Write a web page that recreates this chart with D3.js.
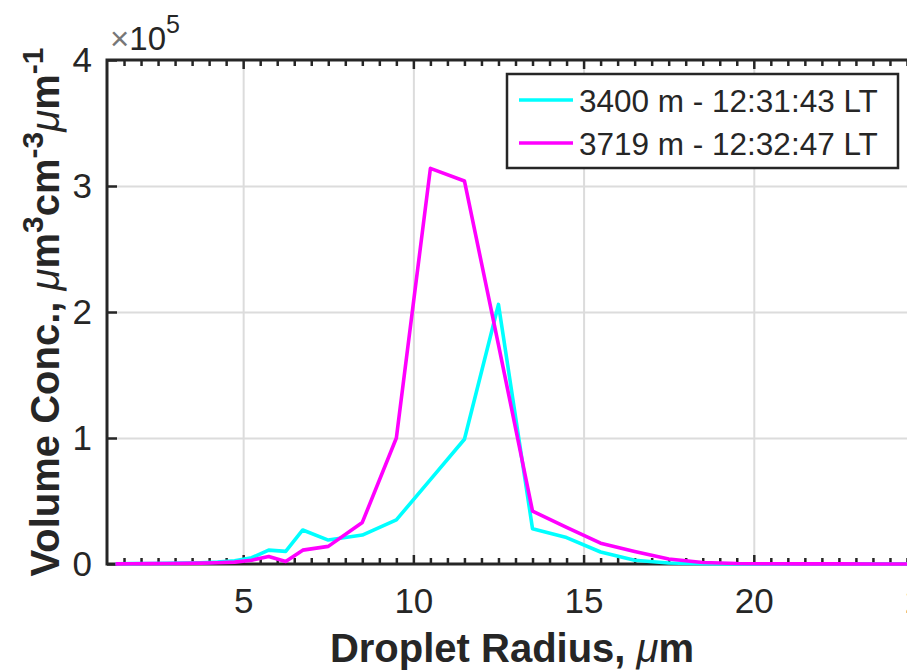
<!DOCTYPE html>
<html lang="en">

<head>
  <meta charset="UTF-8">
  <script src="https://cdn.jsdelivr.net/npm/d3@7"></script>
  <title>Droplet volume concentration</title>
  <style>
    body { margin: 0; background: #fff; }
    svg { display: block; font-family: "Liberation Sans", Arial, Helvetica, sans-serif; }
    .axis path { display: none; }
    .axis text { fill: #262626; font-size: 35px; }
    .axis line { stroke: #262626; stroke-width: 2.5; }
    .grid line { stroke: #dcdcdc; stroke-width: 2; }
    .grid path { display: none; }
  </style>
</head>

<body>
  <svg width="907" height="671" id="chart"></svg>
  <script>
    // droplet radius (um) of each bin
    const radius = [1.25, 1.75, 2.25, 2.75, 3.25, 3.75, 4.25, 4.75, 5.25, 5.75, 6.25, 6.75,
      7.5, 8.5, 9.5, 10.5, 11.5, 12.5, 13.5, 14.5, 15.5, 16.5, 17.5, 18.5, 19.5, 20.5,
      21.5, 22.5, 23.5, 24.5, 25.5];

    // volume concentration, in units of 1e5
    const conc3400 = [0.002, 0.003, 0.004, 0.005, 0.007, 0.01, 0.015, 0.025, 0.05, 0.11, 0.10, 0.27,
      0.19, 0.23, 0.35, 0.67, 0.99, 2.06, 0.28, 0.21, 0.095, 0.03, 0.008, 0.003, 0.001, 0.001,
      0, 0, 0, 0, 0];
    const conc3719 = [0.001, 0.002, 0.003, 0.004, 0.005, 0.007, 0.01, 0.015, 0.03, 0.06, 0.02, 0.11,
      0.14, 0.33, 1.0, 3.14, 3.04, 1.74, 0.42, 0.29, 0.165, 0.10, 0.04, 0.012, 0.004, 0.002,
      0.001, 0.001, 0, 0, 0];

    const seriesNames = ["3400 m - 12:31:43 LT", "3719 m - 12:32:47 LT"];
    const seriesColors = ["#00ffff", "#ff00ff"];

    const xTicks = [5, 10, 15, 20, 25];
    const yTicks = [0, 1, 2, 3, 4];

    let svg = d3.select("#chart");

    // plot box (the right edge lies outside the picture, as in the original crop)
    const boxLeft = 107, boxRight = 924, boxTop = 60, boxBottom = 564;

    let scaleX = d3.scaleLinear().domain([1, 25]).range([boxLeft, boxRight]);
    let scaleY = d3.scaleLinear().domain([0, 4]).range([boxBottom, boxTop]);

    let minorX = d3.range(1.5, 25.01, 0.5).filter(v => !xTicks.includes(v));

    /* GRID */
    svg.append("g").attr("class", "grid")
      .attr("transform", `translate(0,${boxBottom})`)
      .call(d3.axisBottom(scaleX).tickValues(xTicks).tickSize(-(boxBottom - boxTop)).tickFormat(""));
    svg.append("g").attr("class", "grid")
      .attr("transform", `translate(${boxLeft},0)`)
      .call(d3.axisLeft(scaleY).tickValues([1, 2, 3]).tickSize(-(boxRight - boxLeft)).tickFormat(""));

    /* AXES */
    svg.append("g").attr("class", "axis")
      .attr("transform", `translate(0,${boxBottom})`)
      .call(d3.axisBottom(scaleX).tickValues(xTicks).tickSize(-9).tickPadding(24));
    svg.append("g").attr("class", "axis")
      .attr("transform", `translate(0,${boxBottom})`)
      .call(d3.axisBottom(scaleX).tickValues(minorX).tickSize(-6).tickFormat(""));
    svg.append("g").attr("class", "axis")
      .attr("transform", `translate(0,${boxTop})`)
      .call(d3.axisTop(scaleX).tickValues(xTicks).tickSize(-9).tickFormat(""));
    svg.append("g").attr("class", "axis")
      .attr("transform", `translate(0,${boxTop})`)
      .call(d3.axisTop(scaleX).tickValues(minorX).tickSize(-6).tickFormat(""));
    svg.append("g").attr("class", "axis")
      .attr("transform", `translate(${boxLeft},0)`)
      .call(d3.axisLeft(scaleY).tickValues(yTicks).tickSize(-10).tickPadding(15).tickFormat(d3.format("d")));

    // box lines
    svg.append("path")
      .attr("d", `M${boxRight},${boxTop}H${boxLeft}V${boxBottom}H${boxRight}`)
      .attr("fill", "none")
      .attr("stroke", "#262626")
      .attr("stroke-width", 3);

    /* DATA */
    svg.append("clipPath").attr("id", "plotclip")
      .append("rect").attr("x", boxLeft).attr("y", boxTop - 5)
      .attr("width", boxRight - boxLeft).attr("height", boxBottom - boxTop + 10);

    let line = d3.line()
      .x((d, i) => scaleX(radius[i]))
      .y(d => scaleY(d));

    [conc3400, conc3719].forEach((s, i) => {
      svg.append("path")
        .datum(s)
        .attr("d", line)
        .attr("clip-path", "url(#plotclip)")
        .attr("fill", "none")
        .attr("stroke", seriesColors[i])
        .attr("stroke-width", 3.6)
        .attr("stroke-linejoin", "round");
    });

    /* EXPONENT */
    let expo = svg.append("text")
      .attr("x", 110)
      .attr("y", 50)
      .attr("fill", "#262626")
      .style("font-size", "33px");
    expo.append("tspan").attr("fill", "#777").text("\u00d7");
    expo.append("tspan").text("10");
    expo.append("tspan").attr("dy", -17).style("font-size", "25px").text("5");

    /* AXIS LABELS */
    svg.append("text")
      .attr("x", 512)
      .attr("y", 662)
      .attr("text-anchor", "middle")
      .attr("fill", "#262626")
      .style("font-size", "40px")
      .style("font-weight", "bold")
      .html('Droplet Radius, <tspan font-style="italic" font-weight="normal">\u03bc</tspan>m');

    let yLabel = svg.append("text")
      .attr("transform", `translate(59,${(boxTop + boxBottom) / 2}) rotate(-90)`)
      .attr("text-anchor", "middle")
      .attr("fill", "#262626")
      .style("font-size", "40px")
      .style("font-weight", "bold");
    yLabel.append("tspan").text("Volume Conc., ");
    yLabel.append("tspan").attr("font-style", "italic").attr("font-weight", "normal").text("\u03bc");
    yLabel.append("tspan").text("m");
    yLabel.append("tspan").attr("dy", -16).style("font-size", "30px").text("3");
    yLabel.append("tspan").attr("dy", 16).text("cm");
    yLabel.append("tspan").attr("dy", -16).style("font-size", "30px").text("-3");
    yLabel.append("tspan").attr("dy", 16).attr("font-style", "italic").attr("font-weight", "normal").text("\u03bc");
    yLabel.append("tspan").text("m");
    yLabel.append("tspan").attr("dy", -16).style("font-size", "30px").text("-1");

    /* LEGEND */
    let legend = svg.append("g");
    legend.append("rect")
      .attr("x", 507).attr("y", 74)
      .attr("width", 391).attr("height", 94)
      .attr("fill", "#fff")
      .attr("stroke", "#262626")
      .attr("stroke-width", 2.5);
    seriesNames.forEach((name, i) => {
      let y = 100 + i * 43;
      legend.append("line")
        .attr("x1", 519).attr("x2", 573)
        .attr("y1", y).attr("y2", y)
        .attr("stroke", seriesColors[i])
        .attr("stroke-width", 3.6);
      legend.append("text")
        .attr("x", 579).attr("y", y + 12)
        .attr("fill", "#262626")
        .style("font-size", "31.5px")
        .text(name);
    });
  </script>
</body>

</html>
